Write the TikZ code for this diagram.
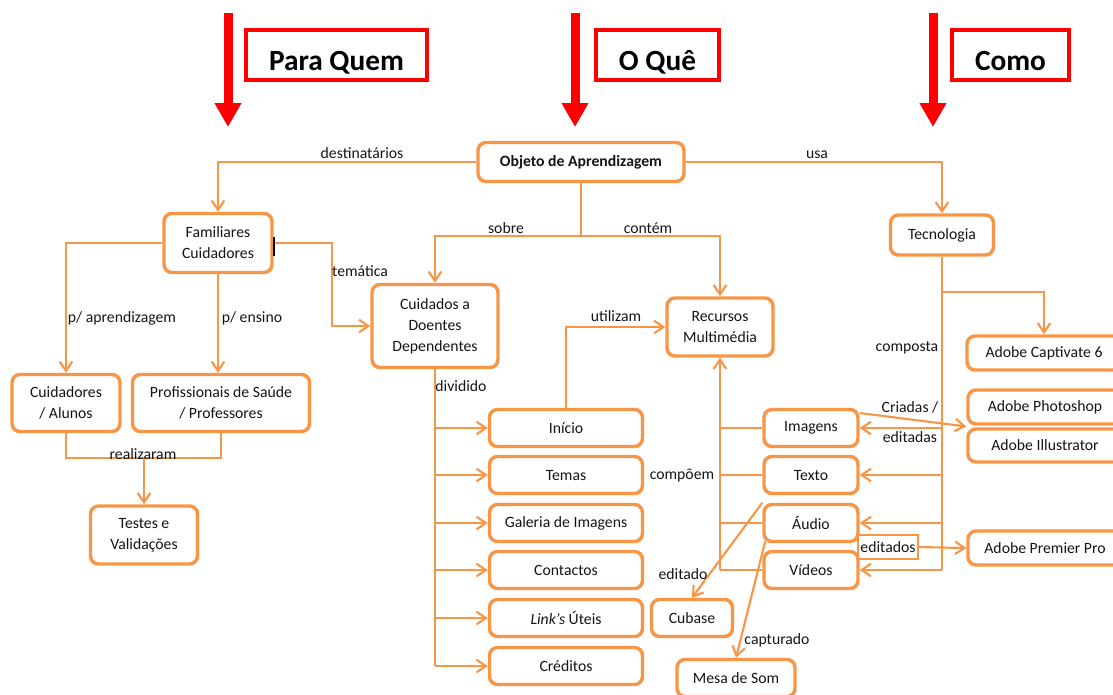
\documentclass[tikz,border=0pt]{standalone}
\usepackage{fontspec}
\setmainfont{Carlito}
\usetikzlibrary{arrows.meta,calc}
\definecolor{org}{HTML}{F79646}
\definecolor{txt}{HTML}{151515}
\begin{document}
\begin{tikzpicture}[x=0.75pt,y=-0.75pt,
 box/.style={draw=org, line width=2.6pt, rounded corners=6pt, fill=white, align=center, inner sep=0pt, text=txt, font=\fontsize{11.8}{15.8}\selectfont},
 itembox/.style={box, minimum width=114.75pt, minimum height=27.75pt},
 medbox/.style={box, minimum width=70.5pt, minimum height=27.75pt},
 adobebox/.style={box, minimum width=115.5pt, minimum height=25.5pt},
 conn/.style={draw=org, line width=1.6pt},
 arr/.style={conn, -{Straight Barb[length=7pt,width=9.5pt]}},
 lbl/.style={text=txt, font=\fontsize{11.8}{13}\selectfont, inner sep=0pt},
 titlebox/.style={draw=red, line width=3.4pt, font=\fontsize{22}{26}\selectfont\bfseries, text=black, inner sep=0pt, text height=22.5pt, text depth=0pt, minimum height=37.5pt},
 redarrow/.style={draw=red, line width=6.75pt, -{Triangle[length=18pt,width=19pt]}}
]
\useasboundingbox (0,0) rectangle (1113,694);

% titles and red arrows
\node[titlebox, minimum width=135.75pt] (tq) at (336.5,55) {Para Quem};
\node[titlebox, minimum width=92.25pt] (to) at (657.5,55) {O Quê};
\node[titlebox, minimum width=87.75pt] (tc) at (1010.5,55) {Como};
\coordinate (ra1) at (228,13); \coordinate (rb1) at (228,127);
\coordinate (ra2) at (575,13); \coordinate (rb2) at (575,127);
\coordinate (ra3) at (933,13); \coordinate (rb3) at (933,127);
\draw[redarrow] (ra1) -- (rb1);
\draw[redarrow] (ra2) -- (rb2);
\draw[redarrow] (ra3) -- (rb3);

% nodes
\node[box, font=\fontsize{11.8}{13}\selectfont\bfseries, minimum width=154.5pt, minimum height=29.25pt] (obj) at (581,162) {Objeto de Aprendizagem};
\node[box, minimum width=81pt, minimum height=44.25pt] (fam) at (218,243) {Familiares\\Cuidadores};
\node[box, minimum width=94.5pt, minimum height=62.25pt] (cda) at (435,326) {Cuidados a\\Doentes\\Dependentes};
\node[box, minimum width=79.5pt, minimum height=43.5pt] (rec) at (720,327) {Recursos\\Multimédia};
\node[box, minimum width=77.25pt, minimum height=30pt] (tec) at (942,235) {Tecnologia};
\node[box, minimum width=81pt, minimum height=42.75pt] (cua) at (66,403) {Cuidadores\\/ Alunos};
\node[box, minimum width=132.75pt, minimum height=42.75pt] (pro) at (221,403) {Profissionais de Saúde\\/ Professores};
\node[box, minimum width=80.25pt, minimum height=43.5pt] (tes) at (144,535) {Testes e\\Validações};

\node[itembox] (i1) at (566,428) {Início};
\node[itembox] (i2) at (566,475) {Temas};
\node[itembox] (i3) at (566,523) {Galeria de Imagens};
\node[itembox] (i4) at (566,570) {Contactos};
\node[itembox] (i5) at (566,618) {\textit{Link’s} Úteis};
\node[itembox] (i6) at (566,666) {Créditos};

\node[medbox] (img) at (811,428) {Imagens};
\node[medbox] (tx) at (811,475) {Texto};
\node[medbox] (aud) at (811,523) {Áudio};
\node[medbox] (vid) at (811,570) {Vídeos};

\node[box, minimum width=60.75pt, minimum height=27.75pt] (cub) at (692,618) {Cubase};
\node[box, minimum width=88.5pt, minimum height=27.75pt] (mes) at (736,678) {Mesa de Som};

\node[adobebox] (cap) at (1044,353) {Adobe Captivate 6};
\node[adobebox] (pho) at (1045,407) {Adobe Photoshop};
\node[adobebox, minimum height=24.75pt] (ill) at (1045,445.5) {Adobe Illustrator};
\node[adobebox] (pre) at (1045,548) {Adobe Premier Pro};

\node[lbl, draw=org, line width=0.8pt, minimum width=45pt, minimum height=18pt] (edl) at (888,547) {editados};

% connectors
\draw[arr] (obj.west) -| (fam.north);
\draw[arr] (obj.east) -| (tec.north);
\coordinate (sj) at ($(obj.south)+(0,53)$);
\draw[conn] (obj.south) -- (sj);
\draw[arr] (sj) -| (cda.north);
\draw[arr] (sj) -| (rec.north);

\draw[arr] (fam.west) -| (cua.north);
\draw[arr] (fam.south) -- (fam.south |- pro.north);
\draw[arr] (fam.east) -- ++(58,0) |- (cda.west);
\coordinate (cur1) at (274,237); \coordinate (cur2) at (274,256);
\draw[black, line width=1.5pt] (cur1) -- (cur2);

\coordinate (rz) at ($(tes.north)+(0,-46)$);
\draw[conn] (cua.south) |- (rz) -| (pro.south);
\draw[arr] (rz) -- (tes.north);

\draw[conn] (cda.south) -- (cda.south |- i6.west);
\foreach \n in {i1,i2,i3,i4,i5,i6}{
  \draw[arr] (cda.south |- \n.west) -- (\n.west);
}
\draw[arr] (i1.north) |- (rec.west);

\draw[arr] (rec.south |- vid.west) -- (rec.south);
\foreach \n in {img,tx,aud,vid}{
  \draw[conn] (rec.south |- \n.west) -- (\n.west);
}

\draw[conn] (tec.south) -- (tec.south |- vid.east);
\foreach \n in {img,tx,aud,vid}{
  \draw[arr] (tec.south |- \n.east) -- (\n.east);
}
\coordinate (tcp) at ($(tec.south)+(0,35)$);
\draw[arr] (tcp) -| (cap.north);

\draw[arr] ($(img.east)+(0,-15)$) -- ($(pho.south west)!0.5!(ill.north west)$);
\draw[arr] (edl.east) -- (pre.west);
\draw[arr] (aud.north west) -- (cub.north);
\draw[arr] ($(aud.south west)+(3,-2)$) -- (mes.north);

% labels
\node[lbl] (ldest) at (362,153) {destinatários};
\node[lbl] (lusa) at (817,155) {usa};
\node[lbl] (lsob) at (506,228) {sobre};
\node[lbl] (lcon) at (648,228) {contém};
\node[lbl] (ltem) at (360,271) {temática};
\node[lbl] (lapr) at (122,318) {p/ aprendizagem};
\node[lbl] (lens) at (252,318) {p/ ensino};
\node[lbl] (lrea) at (143,454) {realizaram};
\node[lbl] (ldiv) at (461,386) {dividido};
\node[lbl] (luti) at (616,316) {utilizam};
\node[lbl] (lcomp) at (682,475) {compõem};
\node[lbl] (lcri) at (910,407) {Criadas /};
\node[lbl] (ledt) at (910,437) {editadas};
\node[lbl] (ledo) at (683,574) {editado};
\node[lbl] (lcapt) at (777,640) {capturado};
\node[lbl] (lcomps) at (907,348) {composta};
\end{tikzpicture}
\end{document}
